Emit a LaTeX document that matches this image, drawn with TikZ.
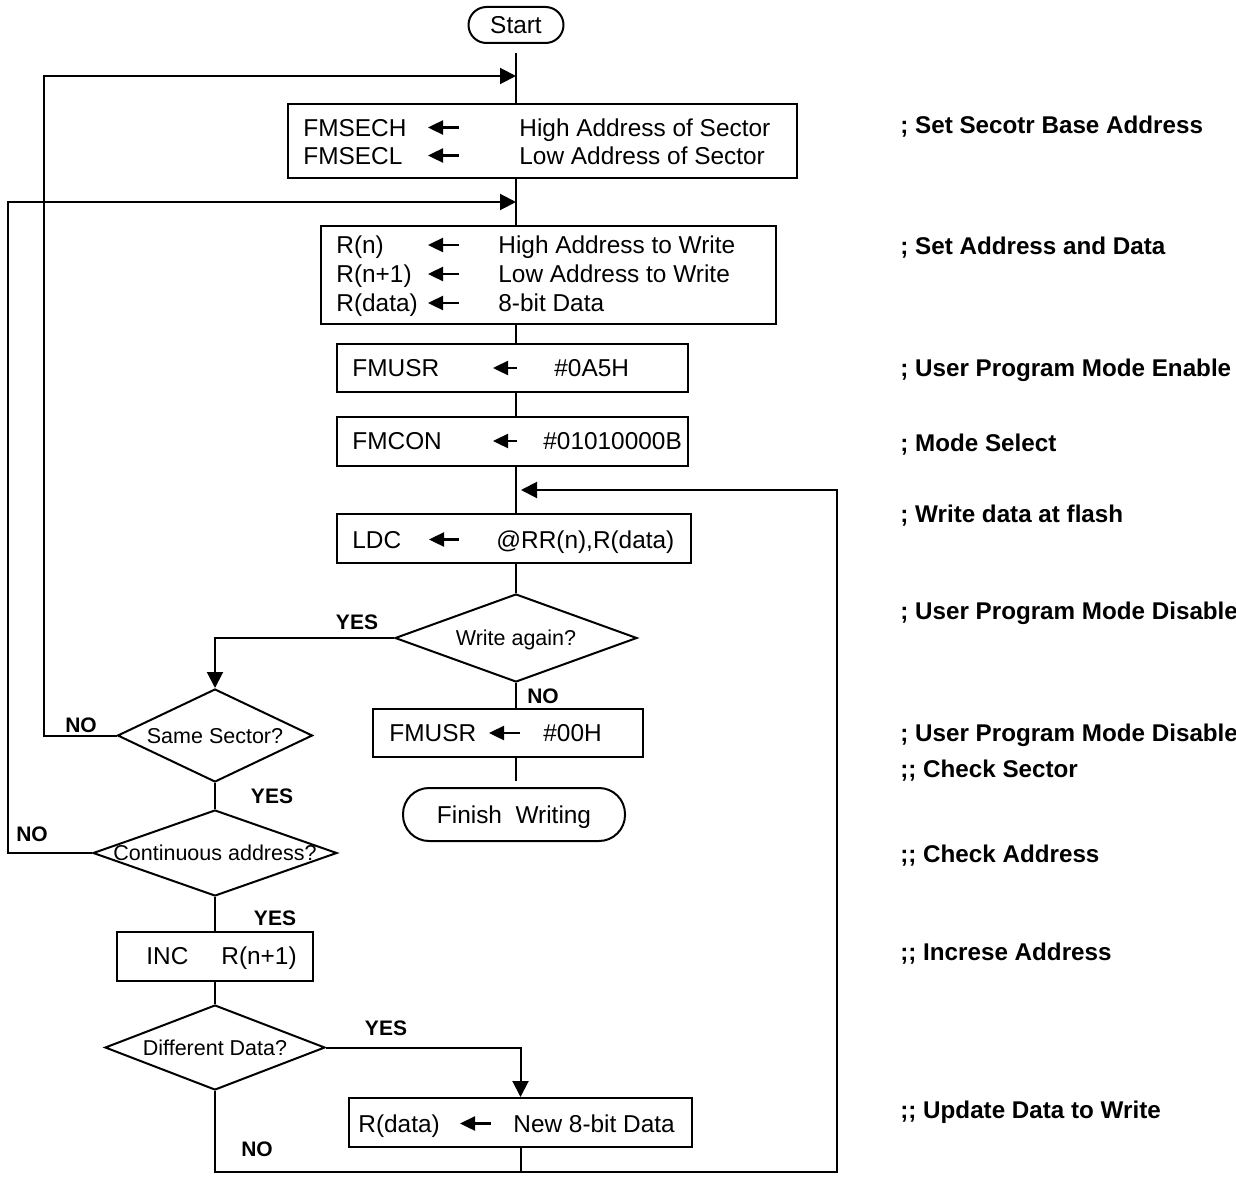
\documentclass[tikz,border=0pt]{standalone}
\usepackage{fontspec}
\setmainfont{Liberation Sans}
\usepackage{tikz}
\usetikzlibrary{arrows.meta,shapes.geometric}

\begin{document}
\begin{tikzpicture}[x=0.5pt,y=-0.5pt,
    line/.style={line width=1pt},
    flow/.style={line width=1pt,-{Triangle[length=8pt,width=8pt]}},
    garr/.style={line width=1.2pt,-{Triangle[length=7.5pt,width=7pt]}},
    box/.style={draw,line width=1pt,inner sep=0pt},
    term/.style={draw,line width=1pt,rounded corners=#1,inner sep=0pt,text height=8.7pt,text depth=0pt,font=\fontsize{12.2}{14}\selectfont},
    dec/.style={diamond,draw,line width=1pt,inner sep=0pt,text height=7.7pt,text depth=0pt,font=\fontsize{10.75}{13}\selectfont},
    txt/.style={inner sep=0pt,anchor=west,text height=8.7pt,text depth=0pt,font=\fontsize{12.2}{14}\selectfont},
    yn/.style={inner sep=0pt,text height=7.5pt,text depth=0pt,font=\fontsize{10.5}{12}\bfseries},
    cmt/.style={inner sep=0pt,anchor=west,text height=8.6pt,text depth=0pt,font=\fontsize{12.1}{14}\bfseries}]
\useasboundingbox (0,0) rectangle (1236,1177);

% flow chart blocks
\node[term=9pt,minimum width=47.5pt,minimum height=18pt] at (516,25) (start) {Start};
\node[box,minimum width=254.5pt,minimum height=36.5pt] at (542.5,141) (sec) {};
\node[box,minimum width=227.5pt,minimum height=49pt] at (548.5,275) (adr) {};
\node[box,minimum width=175.5pt,minimum height=24pt] at (512.5,368) (usr) {};
\node[box,minimum width=175.5pt,minimum height=24.5pt] at (512.5,441.5) (con) {};
\node[box,minimum width=177pt,minimum height=24.5pt] at (514,538.5) (ldc) {};
\node[dec,minimum width=121pt,minimum height=44pt] at (516,638) (again) {\makebox[0pt]{Write again?}};
\node[box,minimum width=135pt,minimum height=24pt] at (508,733) (usr2) {};
\node[term=13pt,minimum width=111pt,minimum height=26.5pt] at (514,814.5) (fin) {Finish\ \ Writing};
\node[dec,minimum width=97.5pt,minimum height=46.5pt] at (215,735.5) (same) {\makebox[0pt]{Same Sector?}};
\node[dec,minimum width=122pt,minimum height=43pt] at (215,853) (cont) {\makebox[0pt]{Continuous address?}};
\node[box,minimum width=98pt,minimum height=24.5pt] at (215,956.5) (inc) {};
\node[dec,minimum width=110pt,minimum height=42.5pt] at (215,1047.5) (diff) {\makebox[0pt]{Different Data?}};
\node[box,minimum width=171.5pt,minimum height=24.5pt] at (520.5,1122.5) (new) {};

% box contents
\node[txt] at (303,127.5) (sech) {FMSECH};
\node[txt] at (519,127.5) (sechv) {High Address of Sector};
\node[txt] at (303,155.5) (secl) {FMSECL};
\node[txt] at (519,155.5) (seclv) {Low Address of Sector};
\node[txt] at (336,245) (rn) {R(n)};
\node[txt] at (498,245) (rnv) {High Address to Write};
\node[txt] at (336,274) (rnn) {R(n+1)};
\node[txt] at (498,274) (rnnv) {Low Address to Write};
\node[txt] at (336,303) (rd) {R(data)};
\node[txt] at (498,303) (rdv) {8-bit Data};
\node[txt] at (352,368) (usrn) {FMUSR};
\node[txt] at (554,368) (usrv) {\#0A5H};
\node[txt] at (352,441) (conn) {FMCON};
\node[txt] at (543,441) (conv) {\#01010000B};
\node[txt] at (352,539.5) (ldcn) {LDC};
\node[txt] at (496,539.5) (ldcv) {@RR(n),R(data)};
\node[txt] at (389,733) (usrtn) {FMUSR};
\node[txt] at (543,733) (usrtv) {\#00H};
\node[txt] at (146,956) (incn) {INC};
\node[txt] at (221,956) (incv) {R(n+1)};
\node[txt] at (358,1123.5) (newn) {R(data)};
\node[txt] at (513,1123.5) (newv) {New 8-bit Data};

\draw[garr] (459,127.5) -- (428,127.5);
\draw[garr] (459,155.5) -- (428,155.5);
\foreach \y in {245,274,303}
  \draw[garr] (459,\y) -- (428,\y);
\draw[garr] (517,368) -- (493,368);
\draw[garr] (517,441) -- (493,441);
\draw[garr] (459,539.5) -- (429,539.5);
\draw[garr] (520,733) -- (489,733);
\draw[garr] (491,1123.5) -- (460,1123.5);

% branch labels
\node[yn] at (357,622) (y1) {YES};
\node[yn] at (543,696) (n1) {NO};
\node[yn] at (81,725) (n2) {NO};
\node[yn] at (272,796) (y2) {YES};
\node[yn] at (32,834) (n3) {NO};
\node[yn] at (275,918) (y3) {YES};
\node[yn] at (386,1028) (y4) {YES};
\node[yn] at (257,1149) (n4) {NO};

% comments
\node[cmt] at (900,125) (c1) {; Set Secotr Base Address};
\node[cmt] at (900,246) (c2) {; Set Address and Data};
\node[cmt] at (900,368) (c3) {; User Program Mode Enable};
\node[cmt] at (900,443) (c4) {; Mode Select};
\node[cmt] at (900,514) (c5) {; Write data at flash};
\node[cmt] at (900,611) (c6) {; User Program Mode Disable};
\node[cmt] at (900,733) (c7) {; User Program Mode Disable};
\node[cmt] at (900,769) (c8) {;; Check Sector};
\node[cmt] at (900,854) (c9) {;; Check Address};
\node[cmt] at (900,952) (c10) {;; Increse Address};
\node[cmt] at (900,1110) (c11) {;; Update Data to Write};

% connectors
\coordinate (j1) at (516,76);
\coordinate (k1) at (44,76);
\coordinate (j2) at (516,202);
\coordinate (k2) at (8,202);
\coordinate (j3) at (521,490);
\coordinate (k3) at (837,490);
\coordinate (r) at (837,1172);

\draw[line] ([yshift=-4.5pt]start.south) -- (start |- sec.north);
\draw[line] (start |- sec.south) -- (start |- adr.north);
\draw[line] (start |- adr.south) -- (start |- usr.north);
\draw[line] (start |- usr.south) -- (start |- con.north);
\draw[line] (start |- con.south) -- (start |- ldc.north);
\draw[line] (start |- ldc.south) -- (again.north);
\draw[line] (again.south) -- (again.south |- usr2.north);
\draw[line] (again.south |- usr2.south) -- ([yshift=3pt]again.south |- fin.north);
\draw[flow] (again.west) -| (same.north);
\draw[flow] (same.west) -| (k1) -- (j1);
\draw[line] (same.south) -- (cont.north);
\draw[flow] (cont.west) -| (k2) -- (j2);
\draw[line] (cont.south) -- (inc.north);
\draw[line] (inc.south) -- (diff.north);
\draw[flow] (diff.east) -| (new.north);
\draw[flow] (diff.south) |- (r) -- (k3) -- (j3);
\draw[line] (new.south) -- (new.south |- r);
\end{tikzpicture}
\end{document}
